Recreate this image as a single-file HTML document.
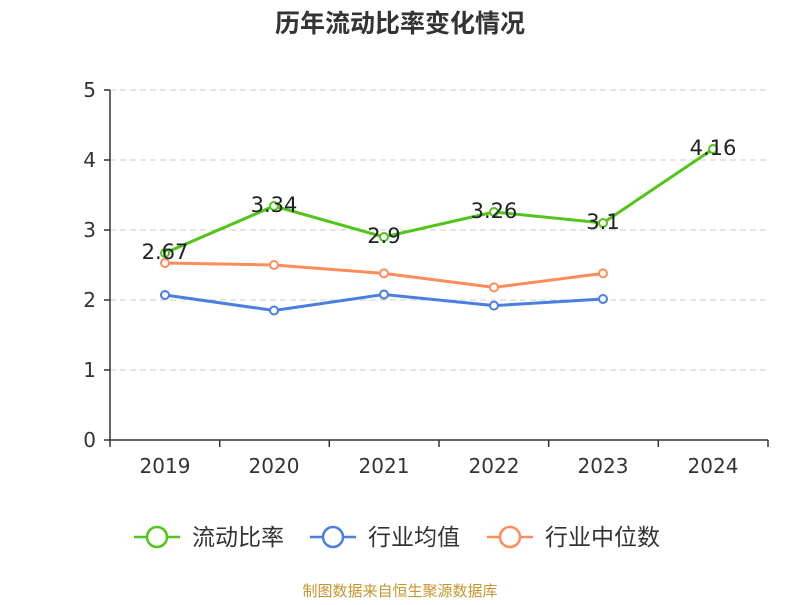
<!DOCTYPE html>
<html><head><meta charset="utf-8"><style>
body{margin:0;background:#fff;}
svg text{font-family:"Liberation Sans","Noto Sans CJK SC",sans-serif;}
svg .n{font-family:"DejaVu Sans",sans-serif;}
</style></head><body>
<svg width="800" height="600" xmlns="http://www.w3.org/2000/svg">
<text x="400" y="32" text-anchor="middle" font-size="25" font-weight="bold" fill="#333">历年流动比率变化情况</text>
<g stroke="#ccc" stroke-dasharray="6,4" stroke-width="1">
<line x1="110" x2="768" y1="90" y2="90"/><line x1="110" x2="768" y1="160" y2="160"/>
<line x1="110" x2="768" y1="230" y2="230"/><line x1="110" x2="768" y1="300" y2="300"/>
<line x1="110" x2="768" y1="370" y2="370"/>
</g>
<g stroke="#333" stroke-width="1.5">
<line x1="110" x2="110" y1="90" y2="440"/>
<line x1="110" x2="768" y1="440" y2="440"/>
<line x1="104" x2="110" y1="90" y2="90"/><line x1="104" x2="110" y1="160" y2="160"/>
<line x1="104" x2="110" y1="230" y2="230"/><line x1="104" x2="110" y1="300" y2="300"/>
<line x1="104" x2="110" y1="370" y2="370"/><line x1="104" x2="110" y1="440" y2="440"/>
<line x1="110" x2="110" y1="440" y2="447"/><line x1="219.7" x2="219.7" y1="440" y2="447"/>
<line x1="329.3" x2="329.3" y1="440" y2="447"/><line x1="439" x2="439" y1="440" y2="447"/>
<line x1="548.7" x2="548.7" y1="440" y2="447"/><line x1="658.3" x2="658.3" y1="440" y2="447"/>
<line x1="768" x2="768" y1="440" y2="447"/>
</g>
<g font-size="20" fill="#333" text-anchor="end" class="n">
<text class="n" x="96" y="97">5</text><text class="n" x="96" y="167">4</text><text class="n" x="96" y="237">3</text>
<text class="n" x="96" y="307">2</text><text class="n" x="96" y="377">1</text><text class="n" x="96" y="447">0</text>
</g>
<g font-size="20" fill="#333" text-anchor="middle">
<text class="n" x="165" y="473">2019</text><text class="n" x="274" y="473">2020</text><text class="n" x="384" y="473">2021</text>
<text class="n" x="494" y="473">2022</text><text class="n" x="603" y="473">2023</text><text class="n" x="713" y="473">2024</text>
</g>
<g fill="none" stroke-width="3">
<polyline stroke="#52c41a" points="165,253 274,206 384,237 494,212 603,223 713,149"/>
<polyline stroke="#4a7ee0" points="165,295 274,310.5 384,294.5 494,305.6 603,299"/>
<polyline stroke="#ff8c5a" points="165,263 274,265 384,273.4 494,287.4 603,273.4"/>
</g>
<g fill="#fff" stroke-width="2">
<g stroke="#52c41a"><circle cx="165" cy="253" r="4"/><circle cx="274" cy="206" r="4"/><circle cx="384" cy="237" r="4"/><circle cx="494" cy="212" r="4"/><circle cx="603" cy="223" r="4"/><circle cx="713" cy="149" r="4"/></g>
<g stroke="#4a7ee0"><circle cx="165" cy="295" r="4"/><circle cx="274" cy="310.5" r="4"/><circle cx="384" cy="294.5" r="4"/><circle cx="494" cy="305.6" r="4"/><circle cx="603" cy="299" r="4"/></g>
<g stroke="#ff8c5a"><circle cx="165" cy="263" r="4"/><circle cx="274" cy="265" r="4"/><circle cx="384" cy="273.4" r="4"/><circle cx="494" cy="287.4" r="4"/><circle cx="603" cy="273.4" r="4"/></g>
</g>
<g font-size="21" fill="#222" text-anchor="middle">
<text class="n" x="165" y="259">2.67</text><text class="n" x="274" y="212">3.34</text><text class="n" x="384" y="243">2.9</text>
<text class="n" x="494" y="218">3.26</text><text class="n" x="603" y="229">3.1</text><text class="n" x="713" y="155">4.16</text>
</g>
<g stroke-width="2.5" fill="#fff">
<line x1="134" x2="180" y1="537" y2="537" stroke="#52c41a"/><circle cx="157" cy="537" r="10" stroke="#52c41a"/>
<line x1="310" x2="356" y1="537" y2="537" stroke="#4a7ee0"/><circle cx="333" cy="537" r="10" stroke="#4a7ee0"/>
<line x1="487" x2="533" y1="537" y2="537" stroke="#ff8c5a"/><circle cx="510" cy="537" r="10" stroke="#ff8c5a"/>
</g>
<g font-size="23" fill="#333">
<text x="192" y="545">流动比率</text><text x="368" y="545">行业均值</text><text x="545" y="545">行业中位数</text>
</g>
<text x="400" y="596" text-anchor="middle" font-size="15" fill="#c8962a">制图数据来自恒生聚源数据库</text>
</svg>
</body></html>
